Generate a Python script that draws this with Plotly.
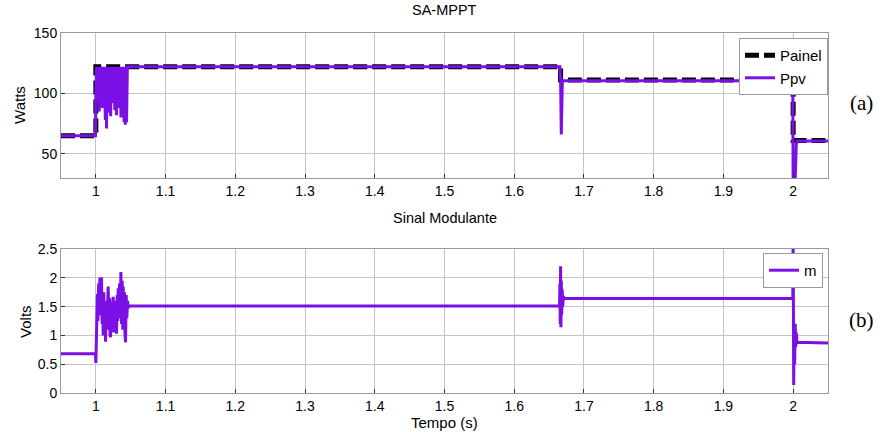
import plotly.graph_objects as go

# ---------------- data ----------------
# Painel (reference power, step profile)
t_painel = [0.95, 1.0, 1.0, 1.6665, 1.6665, 2.0, 2.0, 2.05]
p_painel = [65, 65, 122, 122, 111, 111, 61, 61]

# Ppv (measured PV power)
t_ppv = [0.95, 0.9995, 1.0000, 1.0010, 1.0025, 1.0035, 1.0048, 1.0058, 1.0068,
         1.0078, 1.0090, 1.0100, 1.0112, 1.0122, 1.0136, 1.0146, 1.0153, 1.0162,
         1.0172, 1.0182, 1.0195, 1.0204, 1.0212, 1.0222, 1.0232, 1.0242, 1.0250,
         1.0260, 1.0272, 1.0282, 1.0297, 1.0307, 1.0318, 1.0328, 1.0340, 1.0350,
         1.0360, 1.0370, 1.0382, 1.0392, 1.0405, 1.0415, 1.0422, 1.0432, 1.0440,
         1.0452, 1.6655, 1.6665, 1.6675, 1.6685, 1.6690, 1.9995, 2.0000, 2.0020,
         2.0030, 2.0045, 2.0060, 2.05]
p_ppv = [65, 65, 100, 122, 95, 122, 85, 122, 100,
         122, 88, 122, 96, 122, 78, 122, 71, 122,
         90, 122, 84, 122, 81, 122, 98, 122, 92,
         122, 86, 122, 82, 122, 95, 122, 88, 122,
         80, 122, 90, 122, 76, 122, 74, 118, 76,
         122, 122, 112, 66, 100, 110.5, 110.5, 20, 45,
         30, 58, 60.5, 60.5]

# m (modulating signal)
t_m = [0.95, 0.9995, 1.0000, 1.0012, 1.0022, 1.0030, 1.0040, 1.0048, 1.0057,
       1.0066, 1.0075, 1.0081, 1.0090, 1.0098, 1.0105, 1.0114, 1.0122, 1.0130,
       1.0139, 1.0148, 1.0158, 1.0168, 1.0177, 1.0186, 1.0195, 1.0203, 1.0211,
       1.0220, 1.0228, 1.0238, 1.0249, 1.0258, 1.0266, 1.0276, 1.0288, 1.0297,
       1.0306, 1.0314, 1.0320, 1.0330, 1.0340, 1.0350, 1.0359, 1.0368, 1.0378,
       1.0386, 1.0392, 1.0402, 1.0410, 1.0418, 1.0426, 1.0435, 1.0444, 1.0454,
       1.0465, 1.0478, 1.6650, 1.6655, 1.6660, 1.6665, 1.6670, 1.6675, 1.6680,
       1.6688, 1.6695, 1.6705, 1.6715, 1.9995, 2.0000, 2.0008, 2.0015, 2.0022,
       2.0030, 2.0038, 2.0045, 2.0055, 2.05]
v_m = [0.68, 0.68, 0.52, 1.10, 1.72, 1.25, 1.90, 1.35, 2.00,
       1.50, 1.80, 2.01, 1.20, 1.70, 1.00, 1.75, 1.10, 1.60,
       0.89, 1.50, 1.20, 1.80, 1.85, 1.10, 1.65, 1.00, 0.97,
       1.45, 1.20, 1.55, 1.67, 1.05, 1.50, 1.15, 1.60, 1.03,
       1.70, 1.25, 1.82, 1.40, 1.90, 1.30, 2.10, 1.20, 1.95,
       1.10, 1.85, 1.30, 1.75, 1.00, 0.88, 1.70, 1.30, 1.60,
       1.48, 1.51, 1.51, 1.90, 1.20, 2.20, 1.14, 1.95, 1.35,
       1.80, 1.50, 1.68, 1.64, 1.64, 2.80, 0.14, 1.10, 0.50,
       1.20, 0.80, 1.05, 0.88, 0.87]

x_ticks = [1.0, 1.1, 1.2, 1.3, 1.4, 1.5, 1.6, 1.7, 1.8, 1.9, 2.0]
x_ticklabels = ["1", "1.1", "1.2", "1.3", "1.4", "1.5", "1.6", "1.7", "1.8", "1.9", "2"]
y1_ticks = [50, 100, 150]
y2_ticks = [0, 0.5, 1, 1.5, 2, 2.5]
y2_ticklabels = ["0", "0.5", "1", "1.5", "2", "2.5"]

# ---------------- figure ----------------
PURPLE = "#7a10e6"
FONT = "Liberation Sans, Arial, sans-serif"

fig = go.Figure()
fig.add_trace(go.Scatter(x=t_painel, y=p_painel, mode="lines", name="Painel",
                         line=dict(color="black", width=5, dash="14px,5px"),
                         xaxis="x", yaxis="y", legend="legend"))
fig.add_trace(go.Scatter(x=t_ppv, y=p_ppv, mode="lines", name="Ppv",
                         line=dict(color=PURPLE, width=3),
                         xaxis="x", yaxis="y", legend="legend"))
fig.add_trace(go.Scatter(x=t_m, y=v_m, mode="lines", name="m",
                         line=dict(color=PURPLE, width=3),
                         xaxis="x2", yaxis="y2", legend="legend2"))

axis_common = dict(showline=True, mirror=True, linecolor="#9a9a9a", linewidth=1,
                   ticks="inside", ticklen=4, tickcolor="#333333",
                   showgrid=True, gridcolor="#c4c4c4", gridwidth=1,
                   zeroline=False, tickfont=dict(family=FONT, size=14, color="black"))

fig.update_layout(
    width=882, height=432,
    margin=dict(l=61, r=54, t=33, b=39),
    paper_bgcolor="white", plot_bgcolor="white",
    font=dict(family=FONT, size=14, color="black"),
    xaxis=dict(domain=[0, 1], anchor="y", range=[0.95, 2.05],
               tickvals=x_ticks, ticktext=x_ticklabels, **axis_common),
    yaxis=dict(domain=[0.5975, 1], anchor="x", range=[30, 150],
               tickvals=y1_ticks, **axis_common),
    xaxis2=dict(domain=[0, 1], anchor="y2", range=[0.95, 2.05],
                tickvals=x_ticks, ticktext=x_ticklabels, **axis_common),
    yaxis2=dict(domain=[0, 0.4], anchor="x2", range=[0, 2.5],
                tickvals=y2_ticks, ticktext=y2_ticklabels, **axis_common),
    legend=dict(x=1.0, y=0.986, xanchor="right", yanchor="top",
                bgcolor="white", bordercolor="#9a9a9a", borderwidth=1,
                font=dict(family=FONT, size=15), tracegroupgap=0,
                itemwidth=30),
    legend2=dict(x=0.9935, y=0.389, xanchor="right", yanchor="top",
                 bgcolor="white", bordercolor="#9a9a9a", borderwidth=1,
                 font=dict(family=FONT, size=15), itemwidth=30),
    showlegend=True,
    annotations=[
        dict(text="SA-MPPT", x=0.5, y=1.064, xref="paper", yref="paper",
             showarrow=False, font=dict(family=FONT, size=14.5), yanchor="middle"),
        dict(text="Sinal Modulante", x=0.5, y=0.486, xref="paper", yref="paper",
             showarrow=False, font=dict(family=FONT, size=14.5), yanchor="middle"),
        dict(text="Tempo (s)", x=0.5, y=-0.0806, xref="paper", yref="paper",
             showarrow=False, font=dict(family=FONT, size=15), yanchor="middle"),
        dict(text="Watts", x=-0.0535, y=0.8, xref="paper", yref="paper",
             showarrow=False, textangle=-90, font=dict(family=FONT, size=15),
             xanchor="center", yanchor="middle"),
        dict(text="Volts", x=-0.047, y=0.2, xref="paper", yref="paper",
             showarrow=False, textangle=-90, font=dict(family=FONT, size=15),
             xanchor="center", yanchor="middle"),
        dict(text="(a)", x=1.044, y=0.806, xref="paper", yref="paper",
             showarrow=False, font=dict(family="Liberation Serif, Times New Roman, serif", size=21),
             xanchor="center", yanchor="middle"),
        dict(text="(b)", x=1.044, y=0.203, xref="paper", yref="paper",
             showarrow=False, font=dict(family="Liberation Serif, Times New Roman, serif", size=21),
             xanchor="center", yanchor="middle"),
    ],
)

fig.write_html("out.html",
               config={"displayModeBar": False},
               post_script="document.body.style.margin='0px';"
                           "document.body.style.padding='0px';"
                           "document.body.style.overflow='hidden';")
